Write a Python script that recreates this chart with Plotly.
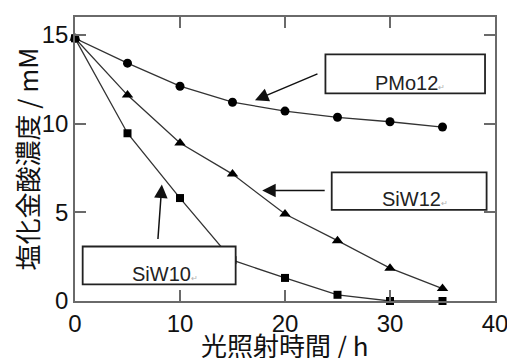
import plotly.graph_objects as go

hours = [0, 5, 10, 15, 20, 25, 30, 35]
pmo12 = [14.8, 13.4, 12.1, 11.2, 10.7, 10.35, 10.1, 9.8]
siw12 = [14.8, 11.6, 8.9, 7.15, 4.9, 3.4, 1.85, 0.7]
siw10 = [14.8, 9.45, 5.8, 2.3, 1.3, 0.35, 0.0, 0.0]

x_ticks = [0, 10, 20, 30, 40]
y_ticks = [0, 5, 10, 15]
x_title = "光照射時間 / h"
y_title = "塩化金酸濃度 / mM"
labels = ["PMo12", "SiW12", "SiW10"]

LINE = "#333333"
AX = "#6a6a6a"
TICKFONT = dict(family="Liberation Sans, Arial", size=24, color="#111")
CJK = "Noto Sans CJK JP, Noto Sans CJK SC, sans-serif"

fig = go.Figure()
for name, ys, sym, sz in [("PMo12", pmo12, "circle", 9),
                          ("SiW12", siw12, "triangle-up", 10),
                          ("SiW10", siw10, "square", 8)]:
    fig.add_trace(go.Scatter(
        x=hours, y=ys, mode="lines+markers", name=name,
        line=dict(color=LINE, width=1.3),
        marker=dict(symbol=sym, size=sz, color="black"),
        cliponaxis=False, showlegend=False))

# label boxes (white, covering lines)
boxes = [
    (23.85, 39.05, 11.7, 13.9),
    (24.45, 39.2, 5.13, 7.25),
    (0.73, 15.3, 0.94, 3.07),
]
for x0, x1, y0, y1 in boxes:
    fig.add_shape(type="rect", xref="x", yref="y", x0=x0, x1=x1, y0=y0, y1=y1,
                  line=dict(color="#222", width=1.8), fillcolor="white", layer="above")

label_pos = [(28.35, 12.3), (29.0, 5.75), (5.2, 1.5)]
for txt, (lx, ly) in zip(labels, label_pos):
    fig.add_annotation(x=lx, y=ly, xref="x", yref="y", xanchor="left", yanchor="middle",
                       text=txt + "<span style='font-size:8px;color:#b0b0b0'>↵</span>",
                       showarrow=False,
                       font=dict(family="Liberation Sans, Arial", size=20, color="#222"))

# arrows pointing at curves
arrows = [(17.14, 11.31, 64, -27), (17.83, 6.22, 64, 0), (8.27, 6.56, -4, 56)]
for tx, ty, ax, ay in arrows:
    fig.add_annotation(x=tx, y=ty, xref="x", yref="y", ax=ax, ay=ay,
                       text="", showarrow=True, arrowhead=2, arrowsize=1.8,
                       arrowwidth=1.5, arrowcolor="#111", standoff=0)

# axis titles as annotations for precise placement
fig.add_annotation(x=0.5, y=-0.154, xref="paper", yref="paper", xanchor="center",
                   yanchor="middle", text=x_title, showarrow=False,
                   font=dict(family=CJK, size=26, color="#111"))
fig.add_annotation(x=-0.1176, y=0.5, xref="paper", yref="paper", xanchor="center",
                   yanchor="middle", text=y_title, showarrow=False, textangle=-90,
                   font=dict(family=CJK, size=26, color="#111"))

fig.update_xaxes(range=[0, 40], tickvals=x_ticks, ticks="inside", ticklen=11,
                 tickwidth=1.5, tickcolor=AX, showline=True, linecolor=AX, linewidth=1.5,
                 mirror="ticks", showgrid=False, zeroline=False, tickfont=TICKFONT)
fig.update_yaxes(range=[0, 16], tickvals=y_ticks, ticks="inside", ticklen=11,
                 tickwidth=1.5, tickcolor=AX, showline=True, linecolor=AX, linewidth=1.5,
                 mirror="ticks", showgrid=False, zeroline=False, tickfont=TICKFONT)

# page body has an 8px default margin, so the figure is sized/offset to compensate
fig.update_layout(width=507, height=350, margin=dict(l=67, r=15, t=7, b=57),
                  paper_bgcolor="white", plot_bgcolor="white")

fig.write_html("out.html")
